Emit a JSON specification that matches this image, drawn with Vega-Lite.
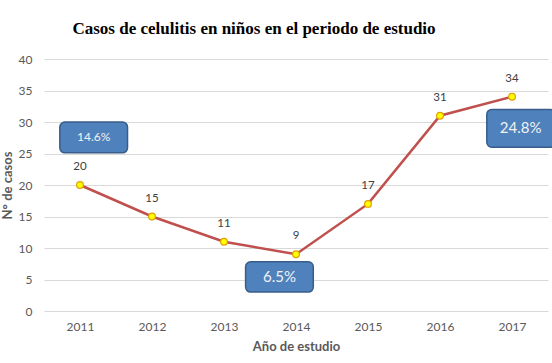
{
  "$schema": "https://vega.github.io/schema/vega-lite/v6.json",
  "width": 504,
  "height": 252,
  "autosize": "none",
  "padding": {"left": 44, "top": 59, "right": 4, "bottom": 52},
  "background": "white",
  "title": {
    "text": "Casos de celulitis en niños en el periodo de estudio",
    "font": "Liberation Serif",
    "fontSize": 17,
    "fontWeight": "bold",
    "color": "#000000",
    "anchor": "middle",
    "frame": "group",
    "dx": -42,
    "offset": 15
  },
  "config": {
    "view": {"stroke": null},
    "font": "Lato",
    "axis": {
      "labelFont": "Lato",
      "labelFontSize": 12,
      "labelColor": "#595959",
      "labelOverlap": false,
      "titleFont": "Lato",
      "titleFontSize": 13,
      "titleFontWeight": "bold",
      "titleColor": "#595959",
      "ticks": false,
      "domain": false
    },
    "axisX": {
      "grid": false,
      "labelPadding": 10,
      "titlePadding": 8
    },
    "axisY": {
      "grid": true,
      "gridColor": "#D9D9D9",
      "gridWidth": 1,
      "labelPadding": 12,
      "titlePadding": 4
    }
  },
  "datasets": {
    "casos": [
      {"anio": 2011, "casos": 20},
      {"anio": 2012, "casos": 15},
      {"anio": 2013, "casos": 11},
      {"anio": 2014, "casos": 9},
      {"anio": 2015, "casos": 17},
      {"anio": 2016, "casos": 31},
      {"anio": 2017, "casos": 34}
    ],
    "porcentajes": [
      {"etiqueta": "14.6%", "x0": 2010.72, "x1": 2011.66, "y0": 25.1, "y1": 30.0, "xc": 2011.19, "yc": 27.55, "tam": 12},
      {"etiqueta": "6.5%", "x0": 2013.30, "x1": 2014.24, "y0": 3.0, "y1": 7.8, "xc": 2013.77, "yc": 5.4, "tam": 15},
      {"etiqueta": "24.8%", "x0": 2016.65, "x1": 2017.60, "y0": 26.0, "y1": 32.0, "xc": 2017.12, "yc": 29.0, "tam": 15}
    ]
  },
  "layer": [
    {
      "data": {"name": "casos"},
      "mark": {"type": "line", "color": "#C0504D", "strokeWidth": 2.5},
      "encoding": {
        "x": {
          "field": "anio",
          "type": "quantitative",
          "title": "Año de estudio",
          "scale": {"domain": [2010.5, 2017.5], "nice": false, "zero": false},
          "axis": {"values": [2011, 2012, 2013, 2014, 2015, 2016, 2017], "format": "d"}
        },
        "y": {
          "field": "casos",
          "type": "quantitative",
          "title": "N° de casos",
          "scale": {"domain": [0, 40], "nice": false},
          "axis": {"values": [0, 5, 10, 15, 20, 25, 30, 35, 40]}
        }
      }
    },
    {
      "data": {"name": "casos"},
      "mark": {"type": "point", "filled": true, "fill": "#FFFF00", "stroke": "#E0A000", "strokeWidth": 1.2, "size": 45, "opacity": 1},
      "encoding": {
        "x": {"field": "anio", "type": "quantitative", "axis": {"values": [2011, 2012, 2013, 2014, 2015, 2016, 2017], "format": "d"}},
        "y": {"field": "casos", "type": "quantitative", "axis": {"values": [0, 5, 10, 15, 20, 25, 30, 35, 40]}}
      }
    },
    {
      "data": {"name": "casos"},
      "mark": {"type": "text", "dy": -18, "fontSize": 11.5, "color": "#404040", "font": "Lato"},
      "encoding": {
        "x": {"field": "anio", "type": "quantitative", "axis": {"values": [2011, 2012, 2013, 2014, 2015, 2016, 2017], "format": "d"}},
        "y": {"field": "casos", "type": "quantitative", "axis": {"values": [0, 5, 10, 15, 20, 25, 30, 35, 40]}},
        "text": {"field": "casos", "type": "quantitative"}
      }
    },
    {
      "data": {"name": "porcentajes"},
      "mark": {"type": "rect", "fill": "#4F81BD", "stroke": "#385D8A", "strokeWidth": 1.5, "cornerRadius": 5},
      "encoding": {
        "x": {"field": "x0", "type": "quantitative", "axis": {"values": [2011, 2012, 2013, 2014, 2015, 2016, 2017], "format": "d"}},
        "x2": {"field": "x1"},
        "y": {"field": "y0", "type": "quantitative", "axis": {"values": [0, 5, 10, 15, 20, 25, 30, 35, 40]}},
        "y2": {"field": "y1"}
      }
    },
    {
      "data": {"name": "porcentajes"},
      "mark": {"type": "text", "color": "#F2F2F2", "font": "Lato", "baseline": "middle", "align": "center"},
      "encoding": {
        "x": {"field": "xc", "type": "quantitative", "axis": {"values": [2011, 2012, 2013, 2014, 2015, 2016, 2017], "format": "d"}},
        "y": {"field": "yc", "type": "quantitative", "axis": {"values": [0, 5, 10, 15, 20, 25, 30, 35, 40]}},
        "text": {"field": "etiqueta", "type": "nominal"},
        "size": {"field": "tam", "type": "quantitative", "scale": null, "legend": null}
      }
    }
  ]
}
